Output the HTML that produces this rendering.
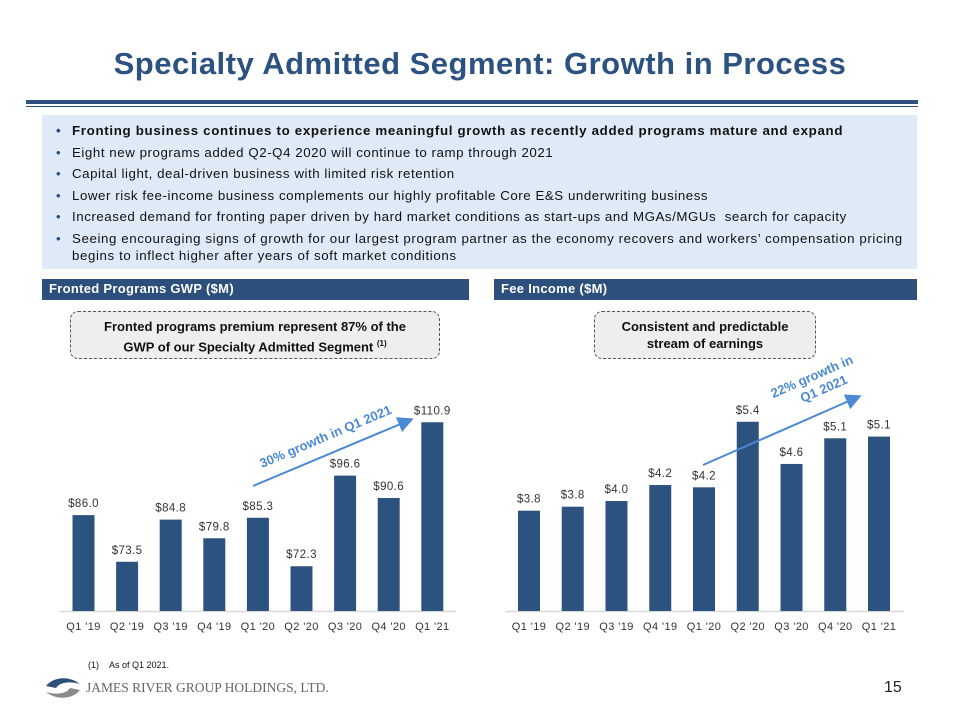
<!DOCTYPE html>
<html><head><meta charset="utf-8"><style>
*{margin:0;padding:0;box-sizing:border-box}
body{width:960px;height:720px;background:#fff;position:relative;overflow:hidden;font-family:"Liberation Sans",Arial,sans-serif}
.abs{position:absolute}
#title{left:0;width:960px;top:46px;text-align:center;font-size:31px;font-weight:bold;color:#2c5282;letter-spacing:0.5px}
#bullets{left:42px;top:115px;width:875px;height:154px;background:#dfeaf8;padding:5px 6px 0 12px;font-size:13.3px;letter-spacing:0.55px;color:#111;line-height:21.5px;white-space:nowrap}
#bullets li{list-style:none;position:relative;padding-left:18px}
#bullets li:before{content:"•";position:absolute;left:2px;color:#1f4e8c}
#bullets li.l2{line-height:17px;padding-top:2px}
.hdr{top:279px;height:21px;background:#2c4f7c;color:#fff;font-weight:bold;font-size:13px;padding:2px 0 0 7px;letter-spacing:0.3px}
.call{top:311px;height:48px;border:1px dashed #555;border-radius:8px;background:#eeeeee;text-align:center;font-weight:bold;font-size:13px;color:#111;line-height:17px;padding-top:6px}
</style></head><body>
<div class="abs" id="title">Specialty Admitted Segment: Growth in Process</div>
<div class="abs" style="left:26px;top:100px;width:892px;height:4px;background:#2c4f7c"></div>
<div class="abs" style="left:26px;top:106px;width:892px;height:1px;background:#2c4f7c"></div>
<ul class="abs" id="bullets">
<li style="font-weight:bold;letter-spacing:0.68px">Fronting business continues to experience meaningful growth as recently added programs mature and expand</li>
<li>Eight new programs added Q2-Q4 2020 will continue to ramp through 2021</li>
<li>Capital light, deal-driven business with limited risk retention</li>
<li>Lower risk fee-income business complements our highly profitable Core E&amp;S underwriting business</li>
<li>Increased demand for fronting paper driven by hard market conditions as start-ups and MGAs/MGUs &nbsp;search for capacity</li>
<li class="l2" style="letter-spacing:0.6px">Seeing encouraging signs of growth for our largest program partner as the economy recovers and workers’ compensation pricing<br>begins to inflect higher after years of soft market conditions</li>
</ul>
<div class="abs hdr" style="left:42px;width:427px">Fronted Programs GWP ($M)</div>
<div class="abs hdr" style="left:494px;width:423px">Fee Income ($M)</div>
<div class="abs call" style="left:70px;width:370px">Fronted programs premium represent 87% of the<br>GWP of our Specialty Admitted Segment <sup style="font-size:8px">(1)</sup></div>
<div class="abs call" style="left:594px;width:222px">Consistent and predictable<br>stream of earnings</div>
<svg class="abs" style="left:0;top:0" width="960" height="720" id="charts">
<defs><marker id="ah" markerWidth="8" markerHeight="8" refX="6" refY="4" orient="auto"><path d="M0,0 L8,4 L0,8 z" fill="#4a8ad4"/></marker></defs>
<g id="g1"></g><g id="g2"></g>
<line x1="253" y1="486" x2="410" y2="420" stroke="#4a8ad4" stroke-width="2" marker-end="url(#ah)"/>
<text x="0" y="0" transform="translate(262,468) rotate(-22.8)" font-size="13" font-weight="bold" fill="#4a8ad4">30% growth in Q1 2021</text>
<line x1="703" y1="465" x2="858" y2="397" stroke="#4a8ad4" stroke-width="2" marker-end="url(#ah)"/>
<text transform="translate(816,386) rotate(-23.5)" font-size="13" font-weight="bold" fill="#4a8ad4" text-anchor="middle"><tspan x="0" y="-6">22% growth in</tspan><tspan x="6" y="10">Q1 2021</tspan></text>
</svg>
<div class="abs" style="left:88px;top:660px;font-size:9px;color:#111">(1)&nbsp;&nbsp;&nbsp;&nbsp;As of Q1 2021.</div>
<svg class="abs" style="left:44px;top:676px" width="40" height="24"><path d="M2,10 C10,0 26,0 36,8 C26,5 16,6 12,12 Z" fill="#2c4f7c"/><path d="M36,14 C28,24 12,24 2,16 C12,19 22,18 26,12 Z" fill="#8a8a8a"/></svg>
<div class="abs" style="left:86px;top:680px;font-family:'Liberation Serif',serif;font-size:13.5px;color:#666">JAMES RIVER GROUP HOLDINGS, LTD.</div>
<div class="abs" style="left:884px;top:679px;font-size:16px;color:#222">15</div>
<script>
const categories=["Q1 '19","Q2 '19","Q3 '19","Q4 '19","Q1 '20","Q2 '20","Q3 '20","Q4 '20","Q1 '21"];
const gwpValues=[86.0,73.5,84.8,79.8,85.3,72.3,96.6,90.6,110.9];
const gwpLabels=["$86.0","$73.5","$84.8","$79.8","$85.3","$72.3","$96.6","$90.6","$110.9"];
const feeValues=[3.84,3.91,4.01,4.29,4.25,5.4,4.66,5.11,5.14];
const feeLabels=["$3.8","$3.8","$4.0","$4.2","$4.2","$5.4","$4.6","$5.1","$5.1"];
const NS="http://www.w3.org/2000/svg";
function mk(t,a,p){const e=document.createElementNS(NS,t);for(const k in a)e.setAttribute(k,a[k]);p.appendChild(e);return e;}
function chart(g,vals,labels,x0,step,vmin,ppu,prefix,axisX1,axisX2){
  const base=611;
  const yS=v=>base-(v-vmin)*ppu;
  const ax=mk('line',{x1:axisX1,x2:axisX2,y1:base+0.5,y2:base+0.5,stroke:'#d9d9d9','stroke-width':1.5},g);
  
  
  vals.forEach((v,i)=>{
    const cx=x0+i*step,y=yS(v);
    const r=mk('rect',{x:cx-11,y:y,width:22,height:base-y,fill:'#2c5380'},g);
    
    
    const t=mk('text',{x:cx,y:y-8,'text-anchor':'middle','font-size':11.5,'letter-spacing':0.4,fill:'#333'},g);
    t.textContent=labels[i];
    
    
    const c=mk('text',{x:cx,y:base+19,'text-anchor':'middle','font-size':11,'letter-spacing':0.4,fill:'#333'},g);
    c.textContent=categories[i];
    
    
  });
}
chart(document.getElementById('g1'),gwpValues,gwpLabels,83.5,43.6,60.3,3.73,'gwp',60,456);
chart(document.getElementById('g2'),feeValues,feeLabels,529,43.75,2.08,57,'fee',506,904);
</script>
</body></html>
